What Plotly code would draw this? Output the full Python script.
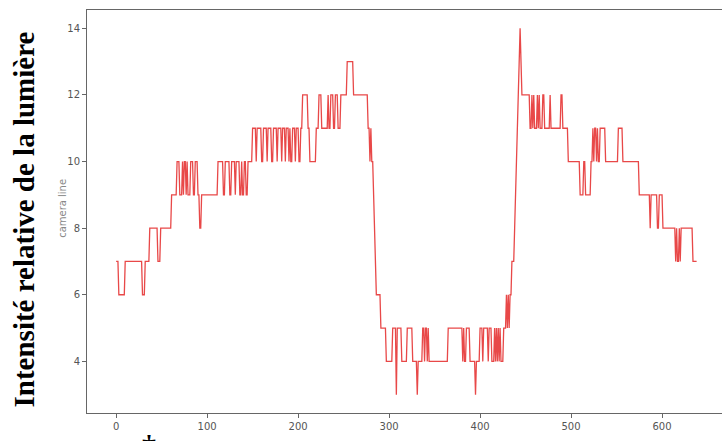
import numpy as np
import plotly.graph_objects as go

# Camera line intensity, run-length form: sample index where each run starts, and its level
run_start = [0, 3, 10, 29, 32, 37, 46, 49, 61, 67, 70, 73, 74, 75, 77, 78, 79, 82, 85, 87, 90, 92, 94,
             112, 118, 120, 125, 127, 131, 132, 136, 138, 139, 141, 143, 145,
             150, 154, 155, 160, 162, 166, 167, 171, 173, 177, 178, 182, 183, 186, 187, 190, 191, 192, 194,
             197, 198, 201, 203,
             205, 211, 213, 220, 223, 226, 233, 234, 236, 239, 241, 244, 247, 254, 261, 277, 279, 280, 281,
             283, 284, 285, 286, 291, 297, 304, 308, 309, 314, 320, 326, 331, 332, 337, 339, 340, 342, 343,
             344, 365, 381, 382, 383, 385, 389, 395, 396, 400, 403, 404, 409, 410, 413, 416, 417, 418, 419,
             420, 421, 422, 423, 426, 429, 430, 431, 432, 433, 435,
             438, 439, 440, 441, 442, 443, 444, 445, 446,
             455, 457, 458, 459, 460, 463, 464, 465, 466, 469, 471, 477, 478, 489, 491,
             497, 510, 514, 516, 522, 524, 525, 526, 528, 529, 530, 532, 538, 552, 557,
             575, 587, 588, 595, 597, 601, 615, 616, 617, 619, 620, 621, 634]
run_value = [7, 6, 7, 6, 7, 8, 7, 8, 9, 10, 9, 10, 9, 10, 9, 10, 9, 10, 9, 10, 9, 8, 9,
             10, 9, 10, 9, 10, 9, 10, 9, 10, 9, 10, 9, 10,
             11, 10, 11, 10, 11, 10, 11, 10, 11, 10, 11, 10, 11, 10, 11, 10, 11, 10, 11,
             10, 11, 10, 11,
             12, 11, 10, 11, 12, 11, 12, 11, 12, 11, 12, 11, 12, 13, 12, 11, 10, 11, 10,
             9, 8, 7, 6, 5, 4, 5, 3, 5, 4, 5, 4, 3, 4, 5, 4, 5, 4, 5,
             4, 5, 4, 5, 4, 5, 4, 3, 4, 5, 4, 5, 4, 5, 4, 5, 4, 5, 4,
             5, 4, 5, 4, 5, 6, 5, 6, 5, 6, 7,
             8, 9, 10, 11, 12, 13, 14, 13, 12,
             11, 12, 11, 12, 11, 12, 11, 12, 11, 12, 11, 12, 11, 12, 11,
             10, 9, 10, 9, 10, 11, 10, 11, 10, 11, 10, 11, 10, 11, 10,
             9, 8, 9, 8, 9, 8, 7, 8, 7, 8, 7, 8, 7]
n_samples = 639

x_ticks = [0, 100, 200, 300, 400, 500, 600]
y_ticks = [4, 6, 8, 10, 12, 14]

lengths = np.diff(run_start + [n_samples])
y = np.repeat(run_value, lengths)
x = np.arange(n_samples)

fig = go.Figure()
fig.add_trace(go.Scatter(x=x, y=y, mode="lines",
                         line=dict(color="rgba(228,40,40,0.85)", width=1.3),
                         hoverinfo="skip", showlegend=False))

axis_font = dict(family="DejaVu Sans", size=10, color="#555")
fig.update_layout(
    width=722, height=441,
    margin=dict(l=87, r=0, t=10, b=28),
    paper_bgcolor="white", plot_bgcolor="white",
    xaxis=dict(range=[-32, 665.9], tickvals=x_ticks, ticks="outside", ticklen=4,
               tickcolor="#666", showline=True, linecolor="#666", linewidth=1,
               mirror=True, showgrid=False, zeroline=False, tickfont=axis_font),
    yaxis=dict(range=[2.45, 14.55], tickvals=y_ticks, ticks="outside", ticklen=4,
               tickcolor="#666", showline=True, linecolor="#666", linewidth=1,
               mirror=False, showgrid=False, zeroline=False, tickfont=axis_font),
    annotations=[
        dict(text="camera line", xref="paper", yref="paper", x=-0.0378, y=0.509,
             textangle=-90, showarrow=False, xanchor="center", yanchor="middle",
             font=dict(family="DejaVu Sans", size=10, color="#888")),
        dict(text="<b>Intensité relative de la lumière</b>", xref="paper", yref="paper",
             x=-0.1, y=0.479, textangle=-90, showarrow=False,
             xanchor="center", yanchor="middle",
             font=dict(family="Liberation Serif", size=29, color="black")),
        dict(text="<b>†</b>", xref="paper", yref="paper", x=0.0976, y=-0.0335,
             showarrow=False, xanchor="center", yanchor="top",
             font=dict(family="Liberation Serif", size=28, color="black")),
    ],
)

fig.write_html("out.html", config={"displayModeBar": False},
               post_script="document.body.style.margin='0';document.body.style.overflow='hidden';")
